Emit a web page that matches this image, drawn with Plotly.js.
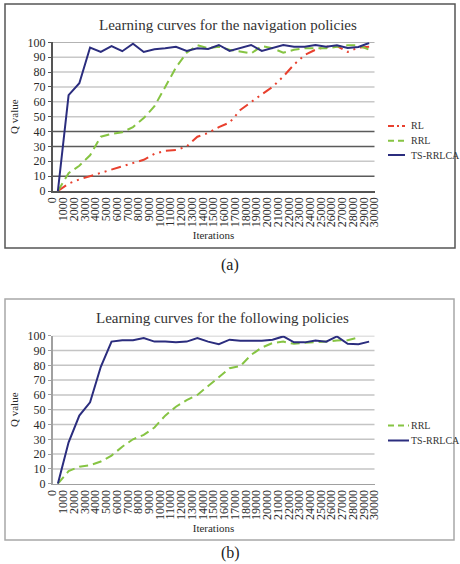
<!DOCTYPE html>
<html><head><meta charset="utf-8">
<script src="https://cdn.plot.ly/plotly-3.0.1.min.js"></script>
<style>html,body{margin:0;padding:0;background:#fff;}#chart{width:460px;height:564px;}</style>
</head><body><div id="chart"></div>
<script>
// ---- data ----
const iterations = [1000,2000,3000,4000,5000,6000,7000,8000,9000,10000,11000,12000,13000,14000,15000,16000,17000,18000,19000,20000,21000,22000,23000,24000,25000,26000,27000,28000,29000,30000];
const tickValues = [0,1000,2000,3000,4000,5000,6000,7000,8000,9000,10000,11000,12000,13000,14000,15000,16000,17000,18000,19000,20000,21000,22000,23000,24000,25000,26000,27000,28000,29000,30000];
const tickLabels = ['0','1000','2000','3000','4000','5000','6000','7000','8000','9000','10000','11000','12000','13000','14000','15000','16000','17000','18000','19000','20000','21000','22000','23000','24000','25000','26000','27000','28000','29000','30000'];
const yTicks = [0,10,20,30,40,50,60,70,80,90,100];

// (a) navigation policies
const navRL  = [0,5,7.8,10,12,14,16.5,18.5,21,25,27,27.5,30,36.5,39,43,46,54.5,60,65,70,77,85,91.5,95,97,97.5,93.5,96.5,97];
const navRRL = [0,12,17,24,36.5,38.4,39.5,43,49,57,70,83,93,98,96,97,95,93.5,92.5,97.5,96,93,95,96,96,96,97,98,98,95];
const navTS  = [0,64.5,72.5,96.5,93.5,97.5,94,99,93.5,95.3,96,97,94.2,96,95.5,98.2,94.2,96,98.2,94.2,96,98.2,97,97,98.2,97,98,96.2,96.8,99.5];

// (b) following policies
const folRRL = [0,8.5,11.5,12.5,15,19,25,30,33,38,46,52,56.5,60,66,72,78,79.5,87,92,95,96,94.5,95.2,95.5,96,96.8,97,98.8,null];
const folTS  = [0,28,46,55,79,96,97,97,98.4,96,96,95.5,96,98.4,96,94.3,97.3,96.6,96.6,96.6,97.3,99.5,95.5,95.5,96.8,96,99.5,94.5,94.3,96];

const titles = ['Learning curves for the navigation policies','Learning curves for the following policies'];
const captions = ['(a)','(b)'];

// ---- style ----
const W = 460, H = 564;
const X = p => p / W, Y = p => 1 - p / H;
const FONT = 'Liberation Serif, Times New Roman, serif';
const RED = '#e8402e', GREEN = '#86c443', NAVY = '#2b2d7e';
const RL_DASH = '10px,5px,2px,5px,2px,5px', RRL_DASH = '9px,5px';

const mk = (y, name, color, dash, xa, ya) => ({
  x: iterations, y: y, name: name, type: 'scatter', mode: 'lines',
  xaxis: xa, yaxis: ya, showlegend: false, connectgaps: false,
  line: {color: color, width: 2, dash: dash}, hoverinfo: 'skip'
});

const data = [
  mk(navRL, 'RL', RED, RL_DASH, 'x', 'y'),
  mk(navRRL, 'RRL', GREEN, RRL_DASH, 'x', 'y'),
  mk(navTS, 'TS-RRLCA', NAVY, 'solid', 'x', 'y'),
  mk(folRRL, 'RRL', GREEN, RRL_DASH, 'x2', 'y2'),
  mk(folTS, 'TS-RRLCA', NAVY, 'solid', 'x2', 'y2')
];

const xAxis = (lineColor, anchor) => ({
  anchor: anchor, domain: [X(52.5), X(374.5)], type: 'linear', range: [500, 30500],
  tickmode: 'array', tickvals: tickValues.map(v => v + 500), ticktext: tickLabels,
  tickangle: -90, tickfont: {family: FONT, size: 12, color: '#2a2a2a'},
  showgrid: false, zeroline: false, showline: true, linecolor: lineColor, linewidth: 1.5,
  ticks: '', fixedrange: true,
  title: {text: 'Iterations', font: {family: FONT, size: 11, color: '#2a2a2a'}, standoff: 5}
});
const yAxis = (domain, lineColor, anchor) => ({
  anchor: anchor, domain: domain, range: [0, 100], tickmode: 'array', tickvals: yTicks,
  tickfont: {family: FONT, size: 12, color: '#2a2a2a'},
  showgrid: false, zeroline: false,
  showline: true, linecolor: lineColor, linewidth: 1.5,
  ticks: 'outside', ticklen: 3, tickcolor: lineColor, tickwidth: 1, fixedrange: true,
  title: {text: 'Q value', font: {family: FONT, size: 11, color: '#2a2a2a'}, standoff: 6}
});

const shapes = [
  {type: 'rect', xref: 'paper', yref: 'paper', x0: X(5), x1: X(455), y0: Y(248), y1: Y(4), line: {color: '#555', width: 1.5}},
  {type: 'rect', xref: 'paper', yref: 'paper', x0: X(5), x1: X(454), y0: Y(540), y1: Y(299), line: {color: '#a8a8a8', width: 1.5}}
];
// horizontal gridlines (in (a) some are darker, as in the scan)
const darkA = [10, 30, 40];
yTicks.filter(v => v > 0).forEach(v => {
  shapes.push({type: 'line', xref: 'x domain', yref: 'y', x0: 0, x1: 1, y0: v, y1: v, layer: 'below',
    line: {color: darkA.includes(v) ? '#5a5a5a' : (v === 100 ? '#9a9a9a' : '#c8c8c8'), width: 1.5}});
  shapes.push({type: 'line', xref: 'x2 domain', yref: 'y2', x0: 0, x1: 1, y0: v, y1: v, layer: 'below',
    line: {color: '#c4c4c4', width: 1.5}});
});

const ann = (text, px, py, size, color, xanchor) => ({
  text: text, x: X(px), y: Y(py), xref: 'paper', yref: 'paper', showarrow: false,
  xanchor: xanchor || 'center', yanchor: 'middle', font: {family: FONT, size: size, color: color}
});
const annotations = [
  ann(titles[0], 228, 25, 15, '#333'),
  ann(titles[1], 222, 318, 15, '#333'),
  ann(captions[0], 230, 265, 16, '#222'),
  ann(captions[1], 230, 553, 16, '#222')
];

// legends (drawn manually to match the compact Excel-style legend)
const legendA = [['RL', RED, '6px,3px,2px,3px', 126], ['RRL', GREEN, '6px,4px', 140.7], ['TS-RRLCA', NAVY, 'solid', 155]];
const legendB = [['RRL', GREEN, '6px,4px', 425.5], ['TS-RRLCA', NAVY, 'solid', 440.5]];
legendA.forEach(([name, color, dash, yy]) => {
  shapes.push({type: 'line', xref: 'paper', yref: 'paper', x0: X(388), x1: X(405), y0: Y(yy), y1: Y(yy), line: {color: color, width: 2, dash: dash}});
  annotations.push(ann(name, 409, yy, 10, '#333', 'left'));
});
legendB.forEach(([name, color, dash, yy]) => {
  shapes.push({type: 'line', xref: 'paper', yref: 'paper', x0: X(388), x1: X(409), y0: Y(yy), y1: Y(yy), line: {color: color, width: 2, dash: dash}});
  annotations.push(ann(name, 409, yy, 10, '#333', 'left'));
});

const layout = {
  width: W, height: H, autosize: false,
  margin: {l: 0, r: 0, t: 0, b: 0},
  paper_bgcolor: '#fff', plot_bgcolor: '#fff',
  showlegend: false,
  font: {family: FONT, color: '#333'},
  xaxis: xAxis('#555', 'y'),
  yaxis: yAxis([Y(191), Y(42.3)], '#555', 'x'),
  xaxis2: xAxis('#a0a0a0', 'y2'),
  yaxis2: yAxis([Y(483.7), Y(335.7)], '#a0a0a0', 'x2'),
  shapes: shapes,
  annotations: annotations
};

Plotly.newPlot('chart', data, layout, {displayModeBar: false, staticPlot: true});
</script></body></html>
